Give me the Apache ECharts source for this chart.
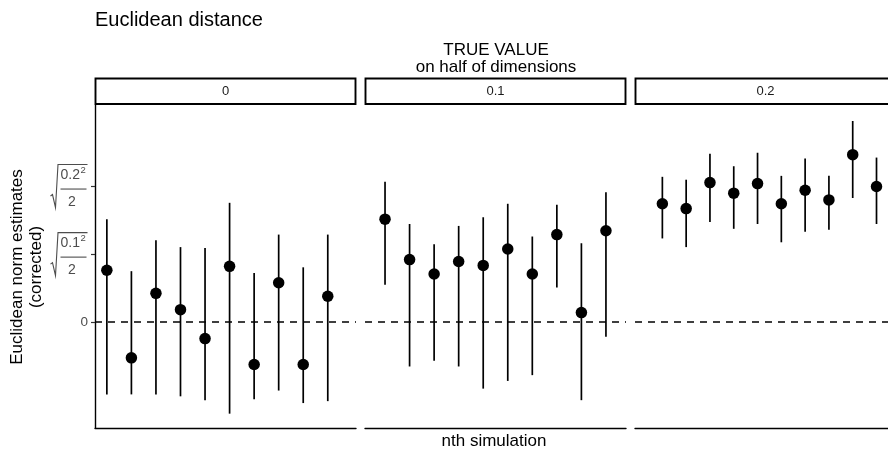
<!DOCTYPE html>
<html>
<head>
<meta charset="utf-8">
<script src="https://cdn.jsdelivr.net/npm/echarts@6/dist/echarts.min.js"></script>
<style>html,body{margin:0;padding:0;background:#fff}#c{width:888px;height:450px}</style>
</head>
<body>
<div id="c"></div>
<script>
// ---- data ----
const facetLabels = ['0', '0.1', '0.2'];
const xPos0 = [1, 2, 3, 4, 5, 6, 7, 8, 9, 10];
const xPos1 = [1.333, 2.333, 3.333, 4.333, 5.333, 6.333, 7.333, 8.333, 9.333, 10.333];
const xPos2 = [1.667, 2.667, 3.667, 4.667, 5.667, 6.667, 7.667, 8.667, 9.667, 10.667];

const est0 = [0.054, -0.037, 0.030, 0.013, -0.017, 0.058, -0.044, 0.041, -0.044, 0.027];
const lo0  = [-0.075, -0.075, -0.075, -0.077, -0.081, -0.095, -0.080, -0.071, -0.084, -0.082];
const hi0  = [0.107, 0.053, 0.085, 0.078, 0.077, 0.124, 0.051, 0.091, 0.057, 0.091];

const est1 = [0.107, 0.065, 0.050, 0.063, 0.059, 0.076, 0.050, 0.091, 0.010, 0.095];
const lo1  = [0.039, -0.046, -0.040, -0.046, -0.069, -0.061, -0.055, 0.036, -0.081, -0.015];
const hi1  = [0.146, 0.102, 0.081, 0.100, 0.109, 0.123, 0.089, 0.122, 0.082, 0.135];

const est2 = [0.123, 0.118, 0.145, 0.134, 0.144, 0.123, 0.137, 0.127, 0.174, 0.141];
const lo2  = [0.087, 0.078, 0.104, 0.097, 0.102, 0.083, 0.094, 0.096, 0.129, 0.102];
const hi2  = [0.151, 0.148, 0.175, 0.162, 0.176, 0.152, 0.170, 0.152, 0.209, 0.171];

const tickValues = [0, Math.sqrt(0.1 * 0.1 / 2), Math.sqrt(0.2 * 0.2 / 2)];
const tickBases = ['0.1', '0.2'];
const tickExponent = '2';
const tickDenominator = '2';
const refLine = 0;

// ---- layout ----
const FONT = 'Liberation Sans, Arial, Helvetica, sans-serif';
const panelLefts = [95, 365, 635];
const panelW = 261, panelTop = 105, panelH = 323;
const yMin = -0.1099, yMax = 0.2256;
const xMin = 0.517, xMax = 11.15;

const xs = [xPos0, xPos1, xPos2];
const ests = [est0, est1, est2];
const los = [lo0, lo1, lo2];
const his = [hi0, hi1, hi2];

const grids = [], xAxes = [], yAxes = [], series = [];
for (let k = 0; k < 3; k++) {
  grids.push({left: panelLefts[k], top: panelTop, width: panelW, height: panelH, containLabel: false});
  xAxes.push({
    type: 'value', gridIndex: k, min: xMin, max: xMax,
    axisLine: {show: true, onZero: false, lineStyle: {color: '#000', width: 1.4}},
    axisTick: {show: false}, axisLabel: {show: false}, splitLine: {show: false}
  });
  yAxes.push({
    type: 'value', gridIndex: k, min: yMin, max: yMax,
    axisLine: {show: k === 0, onZero: false, lineStyle: {color: '#000', width: 1.4}},
    axisTick: {show: k === 0, length: 4, customValues: tickValues, lineStyle: {color: '#333', width: 1.2}},
    axisLabel: {show: k === 0, customValues: [0], margin: 7, color: '#4d4d4d', fontSize: 13.5, fontFamily: FONT},
    splitLine: {show: false}
  });
  const barData = xs[k].map((x, i) => [x, los[k][i], his[k][i]]);
  const ptData = xs[k].map((x, i) => [x, ests[k][i]]);
  series.push({
    type: 'custom', xAxisIndex: k, yAxisIndex: k, data: barData,
    encode: {x: 0, y: [1, 2]}, silent: true, animation: false,
    renderItem: function (params, api) {
      const p1 = api.coord([api.value(0), api.value(1)]);
      const p2 = api.coord([api.value(0), api.value(2)]);
      return {type: 'line', shape: {x1: p1[0], y1: p1[1], x2: p2[0], y2: p2[1]},
              style: {stroke: '#000', lineWidth: 1.7}};
    }
  });
  series.push({
    type: 'scatter', xAxisIndex: k, yAxisIndex: k, data: ptData,
    symbol: 'circle', symbolSize: 11.5, itemStyle: {color: '#000', opacity: 1},
    silent: true, animation: false, z: 3,
    markLine: {
      silent: true, symbol: ['none', 'none'], label: {show: false}, animation: false,
      lineStyle: {color: '#000', type: [7, 6], width: 1.5, opacity: 1},
      data: [{yAxis: refLine}]
    }
  });
}

const chart = echarts.init(document.getElementById('c'), null, {renderer: 'canvas'});
const graphics = [
  {type: 'text', x: 95, y: 20, style: {text: 'Euclidean distance', font: '20px ' + FONT, fill: '#000', align: 'left', verticalAlign: 'middle'}},
  {type: 'text', x: 496, y: 50, style: {text: 'TRUE VALUE', font: '17px ' + FONT, fill: '#000', align: 'center', verticalAlign: 'middle'}},
  {type: 'text', x: 496, y: 67, style: {text: 'on half of dimensions', font: '17px ' + FONT, fill: '#000', align: 'center', verticalAlign: 'middle'}},
  {type: 'text', x: 494, y: 441, style: {text: 'nth simulation', font: '17px ' + FONT, fill: '#000', align: 'center', verticalAlign: 'middle'}},
  {type: 'text', x: 27, y: 267, rotation: Math.PI / 2,
   style: {text: 'Euclidean norm estimates\n(corrected)', font: '17px ' + FONT, lineHeight: 19.5, fill: '#000', align: 'center', verticalAlign: 'middle'}}
];
for (let k = 0; k < 3; k++) {
  graphics.push({type: 'rect', shape: {x: panelLefts[k] + 0.5, y: 78.5, width: panelW - 1, height: 25.5},
                 style: {fill: '#fff', stroke: '#000', lineWidth: 1.9}});
  graphics.push({type: 'text', x: panelLefts[k] + panelW / 2, y: 91.5,
                 style: {text: facetLabels[k], font: '13px ' + FONT, fill: '#1a1a1a', align: 'center', verticalAlign: 'middle'}});
}

chart.setOption({
  animation: false,
  backgroundColor: '#fff',
  grid: grids, xAxis: xAxes, yAxis: yAxes, series: series,
  graphic: {elements: graphics}
});

// square-root tick labels, positioned from the y scale
const extra = [];
for (let j = 1; j < tickValues.length; j++) {
  const Y = chart.convertToPixel({yAxisIndex: 0}, tickValues[j]);
  const col = '#4d4d4d';
  extra.push({type: 'polyline', shape: {points: [[50.5, Y + 10], [52.5, Y + 8.5], [55.5, Y + 21.5], [58, Y - 21.5], [87.5, Y - 21.5]]},
              style: {stroke: col, lineWidth: 1.1, fill: null}});
  extra.push({type: 'text', x: 60.5, y: Y - 10.5, style: {text: tickBases[j - 1], font: '14px ' + FONT, fill: col, align: 'left', verticalAlign: 'middle'}});
  extra.push({type: 'text', x: 80.5, y: Y - 15.5, style: {text: tickExponent, font: '9.5px ' + FONT, fill: col, align: 'left', verticalAlign: 'middle'}});
  extra.push({type: 'line', shape: {x1: 60.5, y1: Y + 3, x2: 86.5, y2: Y + 3}, style: {stroke: col, lineWidth: 1.1}});
  extra.push({type: 'text', x: 72, y: Y + 16, style: {text: tickDenominator, font: '14px ' + FONT, fill: col, align: 'center', verticalAlign: 'middle'}});
}
chart.setOption({graphic: {elements: graphics.concat(extra)}}, {replaceMerge: ['graphic']});
</script>
</body>
</html>
